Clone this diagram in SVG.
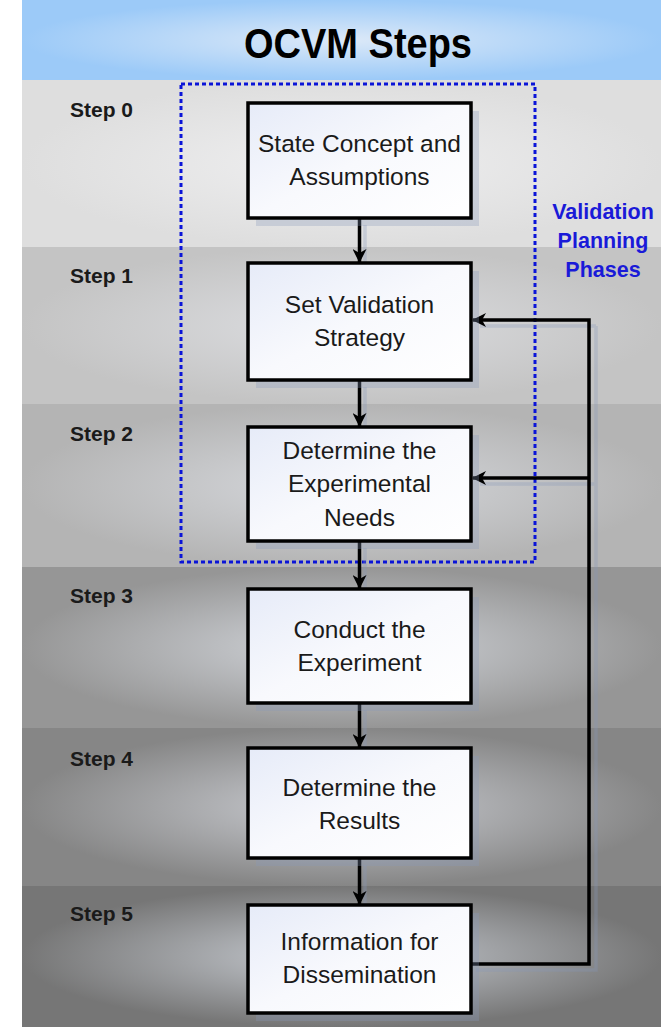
<svg xmlns="http://www.w3.org/2000/svg" width="661" height="1027" viewBox="0 0 661 1027">
<defs>
<style>
.box{fill:url(#boxg);stroke:#000;stroke-width:3.5}
.shadow{fill:#8898b8;opacity:0.3}
.bt{font-family:"Liberation Sans",Arial,sans-serif;font-size:24.5px;fill:#1a1a1a;text-anchor:middle}
.st{font-family:"Liberation Sans",Arial,sans-serif;font-size:21px;font-weight:bold;fill:#1a1a1a}
.conn{fill:none;stroke:#000;stroke-width:3.5}
.cshadow{fill:none;stroke:#8898b8;stroke-width:3.5;opacity:0.3}
.vp{font-family:"Liberation Sans",Arial,sans-serif;font-size:21.5px;font-weight:bold;fill:#1a1ad8;text-anchor:middle}
</style>
<linearGradient id="boxg" x1="0" y1="0" x2="1" y2="1">
<stop offset="0" stop-color="#e6ebf8"/>
<stop offset="0.5" stop-color="#f8f9fd"/>
<stop offset="1" stop-color="#ffffff"/>
</linearGradient>
<radialGradient id="hdr" cx="0.5" cy="0.5" r="0.5">
<stop offset="0" stop-color="#dce9f8"/>
<stop offset="1" stop-color="#9ccaf8"/>
</radialGradient>
<radialGradient id="b0" cx="0.5" cy="0.5" r="0.5"><stop offset="0" stop-color="#efeff0"/><stop offset="1" stop-color="#dedede"/></radialGradient>
<radialGradient id="b1" cx="0.5" cy="0.5" r="0.5"><stop offset="0" stop-color="#dcdde0"/><stop offset="1" stop-color="#c4c4c4"/></radialGradient>
<radialGradient id="b2" cx="0.5" cy="0.5" r="0.5"><stop offset="0" stop-color="#d6d8dc"/><stop offset="1" stop-color="#b4b4b4"/></radialGradient>
<radialGradient id="b3" cx="0.5" cy="0.5" r="0.5"><stop offset="0" stop-color="#d2d5da"/><stop offset="1" stop-color="#969696"/></radialGradient>
<radialGradient id="b4" cx="0.5" cy="0.5" r="0.5"><stop offset="0" stop-color="#caccd1"/><stop offset="1" stop-color="#868686"/></radialGradient>
<radialGradient id="b5" cx="0.5" cy="0.5" r="0.5"><stop offset="0" stop-color="#c8ccd2"/><stop offset="1" stop-color="#767676"/></radialGradient>
<marker id="ah" viewBox="0 0 14 14" refX="13" refY="7" markerWidth="14" markerHeight="14" markerUnits="userSpaceOnUse" orient="auto">
<path d="M0,0 L14,7 L0,14 L4,7 Z" fill="#000"/>
</marker>
</defs>
<rect width="661" height="1027" fill="#fff"/>
<g id="background">
<rect x="22" y="0" width="639" height="80" fill="url(#hdr)"/>
<rect x="22" y="80" width="639" height="167" fill="url(#b0)"/>
<rect x="22" y="247" width="639" height="157" fill="url(#b1)"/>
<rect x="22" y="404" width="639" height="163" fill="url(#b2)"/>
<rect x="22" y="567" width="639" height="161" fill="url(#b3)"/>
<rect x="22" y="728" width="639" height="158" fill="url(#b4)"/>
<rect x="22" y="886" width="639" height="141" fill="url(#b5)"/>
<text transform="translate(358,58) scale(1,1.1)" font-family="'Liberation Sans',Arial,sans-serif" font-size="38" font-weight="bold" text-anchor="middle" fill="#000">OCVM Steps</text>
</g>
<g id="step-labels">
<text class="st" x="70" y="117">Step 0</text>
<text class="st" x="70" y="283">Step 1</text>
<text class="st" x="70" y="441">Step 2</text>
<text class="st" x="70" y="603">Step 3</text>
<text class="st" x="70" y="766">Step 4</text>
<text class="st" x="70" y="921">Step 5</text>
</g>
<g id="validation-planning">
<rect x="181" y="84" width="354" height="478" fill="none" stroke="#0a14d8" stroke-width="3" stroke-dasharray="4,3"/>
<text class="vp" x="603" y="219">Validation</text>
<text class="vp" x="603" y="248">Planning</text>
<text class="vp" x="603" y="277">Phases</text>
</g>
<g id="connectors">
<path class="cshadow" d="M365,225 V268 M365,387 V432 M365,548 V594 M365,710 V753 M365,865 V910 M476,970 H596 V484 H480 M596,326 V484 M596,326 H480"/>
<path class="conn" d="M359.5,218 V262" marker-end="url(#ah)"/>
<path class="conn" d="M359.5,380 V426" marker-end="url(#ah)"/>
<path class="conn" d="M359.5,541 V588" marker-end="url(#ah)"/>
<path class="conn" d="M359.5,703 V747" marker-end="url(#ah)"/>
<path class="conn" d="M359.5,858 V904" marker-end="url(#ah)"/>
<path class="conn" d="M469,964 H589 V320 H473" marker-end="url(#ah)"/>
<path class="conn" d="M589,478 H473" marker-end="url(#ah)"/>
</g>
<g id="node0">
<rect class="shadow" x="256" y="111" width="223" height="115"/>
<rect class="box" x="248" y="103" width="223" height="115"/>
<text class="bt" x="359.5" y="152">State Concept and</text>
<text class="bt" x="359.5" y="185">Assumptions</text>
</g>
<g id="node1">
<rect class="shadow" x="256" y="271" width="223" height="117"/>
<rect class="box" x="248" y="263" width="223" height="117"/>
<text class="bt" x="359.5" y="313">Set Validation</text>
<text class="bt" x="359.5" y="346">Strategy</text>
</g>
<g id="node2">
<rect class="shadow" x="256" y="435" width="223" height="114"/>
<rect class="box" x="248" y="427" width="223" height="114"/>
<text class="bt" x="359.5" y="459">Determine the</text>
<text class="bt" x="359.5" y="492">Experimental</text>
<text class="bt" x="359.5" y="526">Needs</text>
</g>
<g id="node3">
<rect class="shadow" x="256" y="597" width="223" height="114"/>
<rect class="box" x="248" y="589" width="223" height="114"/>
<text class="bt" x="359.5" y="638">Conduct the</text>
<text class="bt" x="359.5" y="671">Experiment</text>
</g>
<g id="node4">
<rect class="shadow" x="256" y="756" width="223" height="110"/>
<rect class="box" x="248" y="748" width="223" height="110"/>
<text class="bt" x="359.5" y="796">Determine the</text>
<text class="bt" x="359.5" y="829">Results</text>
</g>
<g id="node5">
<rect class="shadow" x="256" y="913" width="223" height="108"/>
<rect class="box" x="248" y="905" width="223" height="108"/>
<text class="bt" x="359.5" y="950">Information for</text>
<text class="bt" x="359.5" y="983">Dissemination</text>
</g>
</svg>
